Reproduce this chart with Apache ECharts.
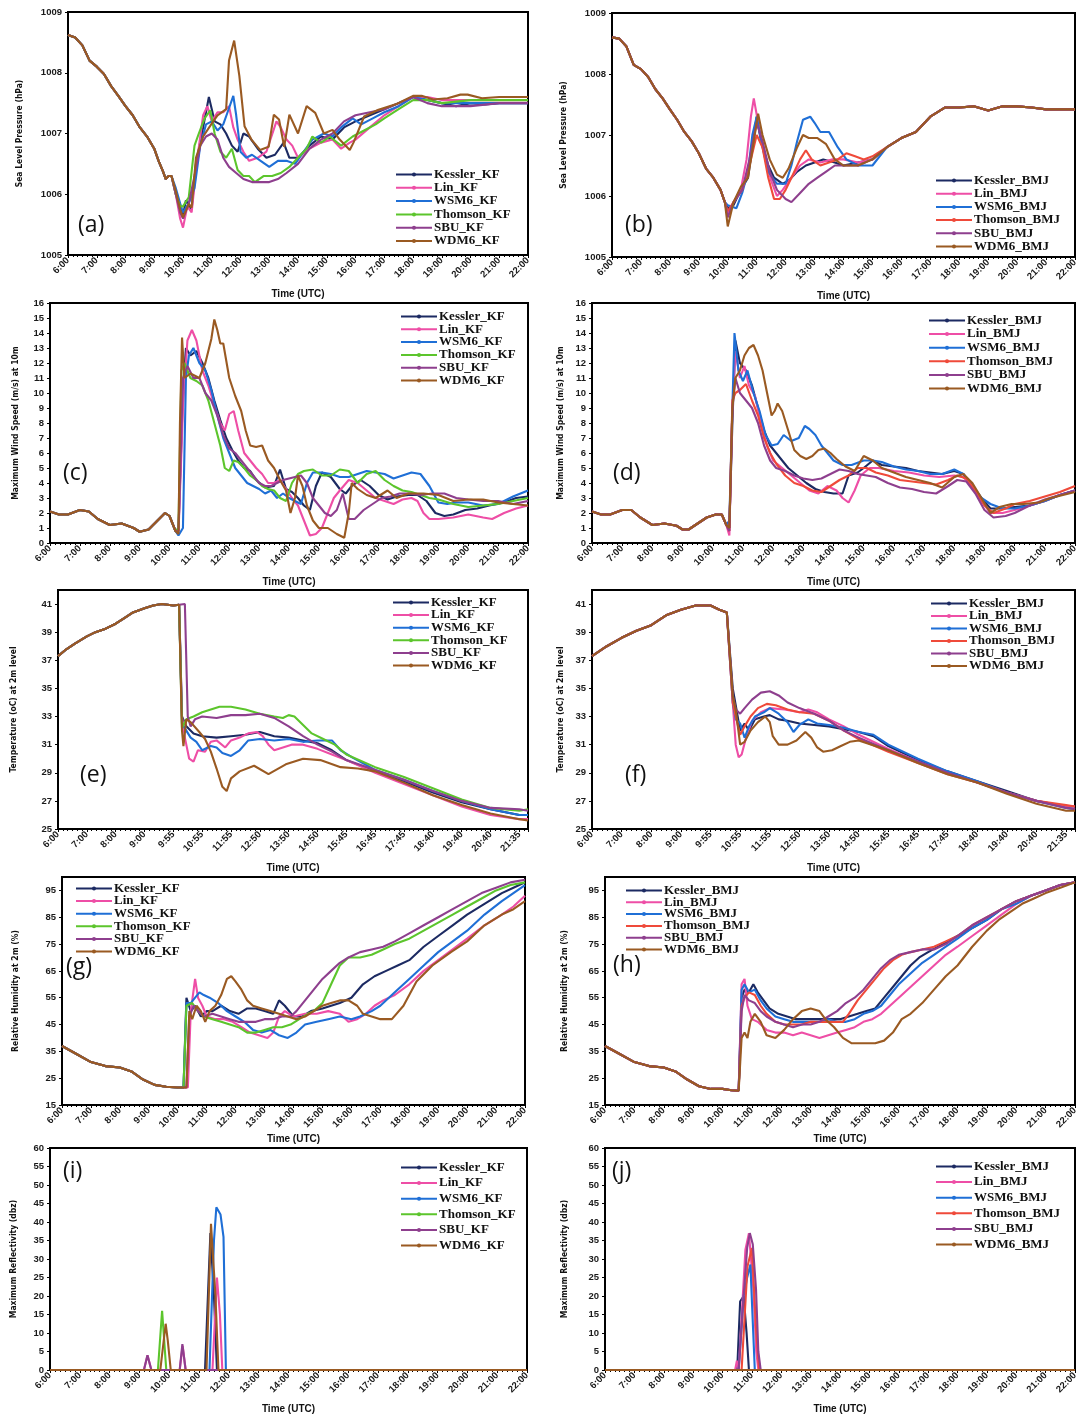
<!DOCTYPE html>
<html><head><meta charset="utf-8">
<script src="https://cdn.jsdelivr.net/npm/echarts@6/dist/echarts.min.js"></script>
<style>html,body{margin:0;padding:0;background:#fff}#c{width:1081px;height:1415px}</style>
</head><body><div id="c"></div>
<script>
// ---------- tick labels ----------
const hourLabels = ['6:00','7:00','8:00','9:00','10:00','11:00','12:00','13:00','14:00','15:00','16:00','17:00','18:00','19:00','20:00','21:00','22:00'];
const tempTickLabels = ['6:00','7:00','8:00','9:00','9:55','10:55','11:55','12:50','13:50','14:50','15:45','16:45','17:45','18:40','19:40','20:40','21:35'];
const schemesKF = ['Kessler_KF','Lin_KF','WSM6_KF','Thomson_KF','SBU_KF','WDM6_KF'];
const schemesBMJ = ['Kessler_BMJ','Lin_BMJ','WSM6_BMJ','Thomson_BMJ','SBU_BMJ','WDM6_BMJ'];

// ---------- (a) Sea level pressure, KF ----------
const a_common = [[6,1008.62],[6.25,1008.58],[6.5,1008.45],[6.75,1008.2],[7,1008.1],[7.25,1007.98],[7.5,1007.78],[7.75,1007.62],[8,1007.45],[8.25,1007.3],[8.5,1007.1],[8.75,1006.95],[9,1006.75],[9.15,1006.55],[9.3,1006.38],[9.4,1006.25],[9.5,1006.3],[9.6,1006.3]];
const a_Kessler = [[9.75,1006.0],[9.9,1005.8],[10.0,1005.65],[10.1,1005.9],[10.3,1005.75],[10.45,1006.5],[10.7,1007.1],[10.9,1007.6],[11.1,1007.2],[11.3,1007.15],[11.5,1007.0],[11.7,1006.8],[11.9,1006.7],[12.1,1007.0],[12.3,1006.95],[12.6,1006.75],[12.9,1006.6],[13.2,1006.65],[13.5,1006.85],[13.7,1006.6],[14.0,1006.6],[14.4,1006.8],[14.8,1006.95],[15.2,1006.9],[15.6,1007.1],[16.0,1007.2],[16.5,1007.3],[17.0,1007.4],[17.5,1007.5],[18.0,1007.6],[18.5,1007.55],[19.0,1007.5],[19.5,1007.45],[20.0,1007.5],[20.5,1007.48],[21.0,1007.5],[22.0,1007.5]];
const a_Lin = [[9.75,1006.0],[9.9,1005.6],[10.0,1005.45],[10.15,1005.8],[10.3,1005.7],[10.5,1006.6],[10.7,1007.3],[10.85,1007.45],[11.0,1007.2],[11.2,1007.35],[11.4,1007.35],[11.6,1007.45],[11.75,1007.1],[11.9,1006.9],[12.1,1006.7],[12.3,1006.55],[12.6,1006.6],[12.9,1006.7],[13.25,1007.2],[13.4,1007.1],[13.6,1006.9],[13.8,1006.8],[14.0,1006.6],[14.4,1006.75],[14.8,1006.85],[15.2,1006.9],[15.5,1006.75],[15.8,1006.85],[16.0,1006.9],[16.5,1007.1],[17.0,1007.3],[17.5,1007.45],[18.0,1007.6],[18.5,1007.6],[19.0,1007.55],[20.0,1007.55],[21.0,1007.55],[22.0,1007.55]];
const a_WSM6 = [[9.75,1006.1],[9.9,1005.85],[10.0,1005.7],[10.2,1005.85],[10.4,1006.1],[10.6,1006.8],[10.8,1007.15],[11.0,1007.2],[11.2,1007.05],[11.4,1007.15],[11.55,1007.35],[11.75,1007.62],[11.85,1007.3],[12.0,1006.7],[12.2,1006.6],[12.4,1006.65],[12.7,1006.55],[13.0,1006.45],[13.3,1006.55],[13.6,1006.55],[13.9,1006.5],[14.2,1006.7],[14.5,1006.9],[14.9,1007.0],[15.2,1006.95],[15.5,1007.1],[15.9,1007.25],[16.2,1007.15],[16.6,1007.25],[17.0,1007.35],[17.5,1007.45],[18.0,1007.6],[18.5,1007.55],[19.0,1007.5],[20.0,1007.5],[21.0,1007.5],[22.0,1007.5]];
const a_Thomson = [[9.75,1006.0],[9.9,1005.8],[10.0,1005.8],[10.2,1005.95],[10.4,1006.8],[10.55,1007.0],[10.75,1007.25],[10.95,1007.38],[11.1,1007.0],[11.3,1006.7],[11.5,1006.6],[11.7,1006.75],[11.9,1006.4],[12.1,1006.3],[12.3,1006.3],[12.5,1006.2],[12.8,1006.3],[13.1,1006.3],[13.4,1006.35],[13.7,1006.45],[14.0,1006.6],[14.3,1006.75],[14.5,1006.95],[14.8,1006.85],[15.1,1006.95],[15.5,1006.8],[15.9,1006.95],[16.3,1007.05],[16.7,1007.15],[17.0,1007.25],[17.5,1007.4],[18.0,1007.55],[18.5,1007.55],[19.0,1007.5],[20.0,1007.55],[21.0,1007.55],[22.0,1007.55]];
const a_SBU = [[9.75,1006.0],[9.9,1005.7],[10.0,1005.6],[10.2,1005.85],[10.4,1006.3],[10.6,1006.8],[10.8,1006.95],[11.0,1007.0],[11.2,1006.9],[11.4,1006.6],[11.6,1006.45],[11.85,1006.35],[12.1,1006.25],[12.4,1006.2],[12.7,1006.2],[13.0,1006.2],[13.3,1006.25],[13.6,1006.35],[14.0,1006.5],[14.4,1006.75],[14.8,1006.9],[15.2,1007.0],[15.6,1007.2],[16.0,1007.3],[16.5,1007.35],[17.0,1007.4],[17.5,1007.5],[18.0,1007.6],[18.5,1007.5],[19.0,1007.45],[19.5,1007.45],[20.0,1007.45],[21.0,1007.5],[22.0,1007.5]];
const a_WDM6 = [[9.75,1006.05],[9.9,1005.75],[10.0,1005.62],[10.2,1005.84],[10.3,1005.78],[10.45,1006.6],[10.7,1006.95],[11.05,1007.2],[11.2,1007.3],[11.5,1007.4],[11.6,1008.2],[11.78,1008.53],[11.96,1007.95],[12.14,1007.12],[12.38,1006.9],[12.68,1006.73],[12.98,1006.78],[13.16,1007.31],[13.34,1007.23],[13.52,1006.78],[13.7,1007.31],[14.0,1007.0],[14.3,1007.45],[14.6,1007.34],[14.9,1007.0],[15.2,1007.06],[15.45,1006.9],[15.8,1006.73],[15.93,1006.85],[16.3,1007.28],[16.8,1007.39],[17.4,1007.48],[18.0,1007.62],[18.3,1007.62],[18.7,1007.56],[19.2,1007.58],[19.65,1007.64],[19.9,1007.64],[20.4,1007.58],[21.0,1007.6],[22.0,1007.6]];

// ---------- (b) Sea level pressure, BMJ ----------
const b_common = [[6,1008.6],[6.25,1008.58],[6.5,1008.45],[6.75,1008.15],[7,1008.08],[7.25,1007.95],[7.5,1007.75],[7.75,1007.6],[8,1007.42],[8.25,1007.25],[8.5,1007.05],[8.75,1006.9],[9,1006.7],[9.25,1006.45],[9.5,1006.3],[9.75,1006.1],[9.9,1005.9]];
const b_tail = [[15.5,1006.8],[16.0,1006.95],[16.5,1007.05],[17.0,1007.3],[17.5,1007.45],[18.0,1007.45],[18.5,1007.47],[19.0,1007.4],[19.5,1007.47],[20.0,1007.47],[20.5,1007.45],[21.0,1007.42],[22.0,1007.42]];
const b_Kessler = [[10.0,1005.8],[10.2,1005.85],[10.45,1006.1],[10.7,1006.3],[10.85,1006.8],[11.0,1007.3],[11.15,1006.9],[11.4,1006.5],[11.6,1006.3],[11.9,1006.2],[12.1,1006.25],[12.4,1006.4],[12.7,1006.5],[13.0,1006.55],[13.3,1006.6],[13.7,1006.55],[14.0,1006.5],[14.5,1006.55],[15.0,1006.6]];
const b_Lin = [[10.0,1005.7],[10.2,1005.9],[10.45,1006.1],[10.65,1006.6],[10.8,1007.3],[10.9,1007.6],[11.05,1007.2],[11.3,1006.6],[11.5,1006.25],[11.7,1006.0],[11.9,1006.1],[12.2,1006.3],[12.5,1006.5],[12.8,1006.6],[13.2,1006.55],[13.6,1006.6],[14.0,1006.6],[14.5,1006.55],[15.0,1006.6]];
const b_WSM6 = [[10.0,1005.85],[10.3,1005.8],[10.5,1006.05],[10.7,1006.4],[10.85,1007.0],[11.0,1007.3],[11.2,1006.8],[11.4,1006.4],[11.7,1006.2],[12.0,1006.2],[12.2,1006.5],[12.4,1006.9],[12.6,1007.25],[12.85,1007.3],[13.0,1007.2],[13.2,1007.05],[13.5,1007.05],[13.8,1006.8],[14.1,1006.6],[14.5,1006.5],[15.0,1006.5]];
const b_Thomson = [[10.0,1005.75],[10.2,1005.9],[10.5,1006.1],[10.75,1006.5],[11.0,1007.0],[11.2,1006.8],[11.4,1006.3],[11.6,1005.95],[11.8,1005.95],[12.0,1006.1],[12.2,1006.3],[12.5,1006.6],[12.7,1006.75],[12.9,1006.6],[13.2,1006.5],[13.5,1006.55],[13.8,1006.6],[14.1,1006.7],[14.4,1006.65],[14.7,1006.6],[15.0,1006.65]];
const b_SBU = [[10.0,1005.65],[10.2,1005.9],[10.5,1006.1],[10.75,1006.6],[11.0,1007.2],[11.2,1006.9],[11.45,1006.4],[11.7,1006.1],[12.0,1005.95],[12.2,1005.9],[12.5,1006.05],[12.8,1006.2],[13.1,1006.3],[13.4,1006.4],[13.7,1006.5],[14.0,1006.5],[14.5,1006.5],[15.0,1006.6]];
const b_WDM6 = [[10.0,1005.5],[10.2,1005.9],[10.45,1006.15],[10.7,1006.3],[10.9,1006.9],[11.05,1007.35],[11.2,1007.0],[11.45,1006.6],[11.7,1006.35],[11.9,1006.3],[12.1,1006.45],[12.4,1006.8],[12.6,1007.0],[12.8,1006.95],[13.1,1006.95],[13.4,1006.85],[13.7,1006.6],[14.0,1006.5],[14.5,1006.5],[15.0,1006.6]];

// ---------- (c) Max wind speed, KF ----------
const c_common = [[6,2.1],[6.3,1.9],[6.6,1.9],[7,2.2],[7.3,2.1],[7.6,1.6],[8,1.2],[8.4,1.3],[8.8,1.0],[9.0,0.75],[9.3,0.9],[9.6,1.5],[9.85,2.0],[10.0,1.8],[10.2,0.8]];
const c_Kessler = [[10.3,0.8],[10.45,10],[10.55,13.0],[10.7,12.5],[10.9,12.8],[11.1,12.0],[11.3,11.0],[11.5,9.5],[11.7,8.2],[11.9,7.0],[12.1,6.2],[12.3,5.5],[12.5,5.0],[12.7,4.8],[12.9,4.2],[13.2,3.7],[13.5,3.8],[13.7,4.9],[13.9,3.6],[14.1,3.4],[14.3,3.0],[14.5,2.5],[14.7,2.2],[14.9,3.8],[15.1,4.7],[15.4,4.4],[15.7,3.6],[15.9,3.3],[16.1,3.8],[16.4,4.2],[16.7,3.8],[17.0,3.2],[17.3,2.9],[17.6,3.1],[18.0,3.2],[18.3,3.2],[18.6,2.8],[18.9,2.0],[19.2,1.8],[19.5,1.9],[19.9,2.2],[20.3,2.3],[20.7,2.5],[21.2,2.7],[21.6,3.0],[22,3.1]];
const c_Lin = [[10.3,0.6],[10.45,9],[10.6,13.5],[10.75,14.2],[10.9,13.5],[11.1,11.5],[11.3,10.5],[11.5,9.2],[11.7,8.0],[11.85,7.5],[12.0,8.6],[12.15,8.8],[12.3,7.5],[12.5,6.0],[12.7,5.5],[12.9,5.0],[13.1,4.6],[13.3,4.0],[13.5,4.0],[13.7,4.2],[13.9,3.6],[14.1,3.0],[14.3,2.5],[14.5,1.5],[14.7,0.5],[14.9,0.6],[15.1,1.0],[15.3,2.0],[15.5,3.0],[15.7,3.5],[16.0,4.2],[16.3,4.0],[16.6,3.5],[16.9,3.0],[17.2,2.8],[17.5,2.6],[17.8,2.9],[18.1,3.0],[18.3,2.8],[18.5,2.0],[18.7,1.6],[19.0,1.6],[19.5,1.7],[20.0,1.9],[20.5,1.7],[20.8,1.6],[21.2,2.0],[21.6,2.3],[22,2.5]];
const c_WSM6 = [[10.3,0.5],[10.45,1.0],[10.55,11],[10.65,12.5],[10.8,13.0],[11.0,12.0],[11.2,11.5],[11.4,10.2],[11.6,8.5],[11.8,7.0],[12.0,6.0],[12.2,5.0],[12.4,4.5],[12.6,4.0],[12.8,3.8],[13.0,3.6],[13.2,3.3],[13.4,3.5],[13.6,3.0],[13.8,3.3],[14.0,3.0],[14.2,2.8],[14.4,2.6],[14.6,4.0],[14.8,4.7],[15.1,4.7],[15.4,4.6],[15.7,4.4],[16.0,4.4],[16.3,4.6],[16.6,4.8],[16.9,4.7],[17.2,4.6],[17.5,4.3],[17.8,4.5],[18.1,4.7],[18.4,4.6],[18.7,3.8],[19.0,2.7],[19.3,2.6],[19.6,2.7],[20.0,2.7],[20.5,2.5],[21.0,2.6],[21.5,3.1],[22,3.5]];
const c_Thomson = [[10.3,1.0],[10.4,11.5],[10.5,12.0],[10.7,11.0],[10.9,10.8],[11.1,10.5],[11.3,9.5],[11.5,8.0],[11.7,6.5],[11.85,5.0],[12.0,4.8],[12.15,5.5],[12.3,5.4],[12.5,5.0],[12.7,4.5],[12.9,4.2],[13.1,3.8],[13.3,3.6],[13.5,3.5],[13.7,3.0],[13.9,2.8],[14.1,4.0],[14.3,4.6],[14.5,4.8],[14.8,4.9],[15.1,4.5],[15.4,4.5],[15.7,4.9],[16.0,4.8],[16.3,4.0],[16.6,4.6],[16.9,4.8],[17.2,4.2],[17.5,3.8],[17.8,3.5],[18.1,3.4],[18.4,3.2],[18.7,3.0],[19.0,2.9],[19.5,2.6],[20.0,2.4],[20.5,2.5],[21.0,2.6],[21.5,2.8],[22,3.0]];
const c_SBU = [[10.3,0.8],[10.45,11],[10.6,11.8],[10.8,11.0],[11.0,11.0],[11.2,10.0],[11.4,9.5],[11.6,8.5],[11.8,7.2],[12.0,6.3],[12.2,6.0],[12.4,5.5],[12.6,5.0],[12.8,4.5],[13.0,4.0],[13.2,3.8],[13.4,3.8],[13.6,4.0],[13.8,4.2],[14.0,4.3],[14.2,4.4],[14.4,4.5],[14.6,4.0],[14.8,3.0],[15.0,2.5],[15.2,2.0],[15.4,1.8],[15.6,2.2],[15.8,3.3],[16.0,1.6],[16.2,1.6],[16.5,2.2],[16.8,2.6],[17.1,3.0],[17.4,3.1],[17.7,3.3],[18.0,3.3],[18.4,3.2],[18.8,3.3],[19.2,3.3],[19.6,3.0],[20.0,2.9],[20.5,2.8],[21.0,2.8],[21.5,2.6],[22,2.8]];
const c_WDM6 = [[10.3,0.6],[10.35,8],[10.42,13.7],[10.5,11],[10.7,11.3],[11.0,11],[11.2,12.0],[11.4,13.6],[11.5,14.9],[11.6,14.2],[11.7,13.3],[11.8,13.3],[12.0,11],[12.2,9.8],[12.4,8.8],[12.55,7.5],[12.7,6.5],[12.9,6.4],[13.1,6.5],[13.3,5.5],[13.5,5.0],[13.7,4.2],[13.9,3.5],[14.05,2.0],[14.2,3.0],[14.3,4.5],[14.45,3.8],[14.6,2.5],[14.8,1.5],[15.0,1.0],[15.3,1.0],[15.6,0.6],[15.85,0.35],[16.0,2.0],[16.1,4.0],[16.3,3.6],[16.6,3.2],[16.9,3.0],[17.3,3.5],[17.6,3.0],[18.0,3.3],[18.5,3.3],[19.0,3.2],[19.5,2.8],[20.0,2.9],[20.5,2.9],[21.0,2.7],[21.5,2.6],[22.0,2.5]];

// ---------- (d) Max wind speed, BMJ ----------
const d_common = [[6,2.1],[6.3,1.9],[6.6,1.9],[7,2.2],[7.3,2.2],[7.6,1.7],[8,1.2],[8.4,1.3],[8.8,1.15],[9.0,0.9],[9.2,0.9],[9.5,1.3],[9.8,1.7],[10.1,1.9],[10.3,1.9],[10.45,1.2]];
const d_Kessler = [[10.55,1.0],[10.65,8],[10.75,13.5],[10.9,12.0],[11.1,11.5],[11.3,10.5],[11.5,9.0],[11.7,7.5],[11.9,6.5],[12.1,6.0],[12.3,5.5],[12.5,5.0],[12.8,4.5],[13.1,4.0],[13.4,3.6],[13.7,3.4],[14.0,3.3],[14.3,3.3],[14.5,4.5],[14.8,4.7],[15.0,5.0],[15.3,5.5],[15.6,5.2],[16.0,5.1],[16.4,5.0],[16.8,4.8],[17.2,4.7],[17.6,4.6],[18.0,4.8],[18.3,4.6],[18.6,3.8],[18.9,3.0],[19.2,2.3],[19.6,2.3],[20.0,2.4],[20.5,2.5],[21.0,2.8],[21.5,3.2],[22,3.5]];
const d_Lin = [[10.55,0.5],[10.65,9],[10.75,12.8],[10.9,11.0],[11.05,11.8],[11.2,10.5],[11.4,9.8],[11.6,8.0],[11.8,6.5],[12.0,5.5],[12.3,5.0],[12.6,4.5],[12.9,4.0],[13.2,3.5],[13.5,3.3],[13.8,3.8],[14.1,3.5],[14.3,3.0],[14.5,2.7],[14.7,3.5],[14.9,4.5],[15.2,5.0],[15.5,5.0],[16.0,4.8],[16.5,4.7],[17.0,4.5],[17.5,4.4],[18.0,4.5],[18.3,4.4],[18.6,3.7],[18.9,2.8],[19.2,2.0],[19.6,2.0],[20.0,2.2],[20.5,2.5],[21.0,2.8],[21.5,3.2],[22,3.5]];
const d_WSM6 = [[10.55,1.5],[10.65,9],[10.72,14.0],[10.85,11.5],[11.0,10.8],[11.15,11.5],[11.35,10.0],[11.55,8.8],[11.75,7.2],[11.95,6.5],[12.15,6.6],[12.35,7.2],[12.6,6.8],[12.85,7.0],[13.05,7.8],[13.2,7.6],[13.4,7.2],[13.6,6.5],[13.8,6.0],[14.0,5.5],[14.3,5.2],[14.6,5.2],[15.0,5.5],[15.3,5.5],[15.6,5.4],[16.0,5.1],[16.4,4.9],[16.8,4.8],[17.2,4.6],[17.6,4.6],[18.0,4.9],[18.3,4.6],[18.6,3.8],[18.9,3.0],[19.2,2.6],[19.6,2.3],[20.0,2.3],[20.5,2.5],[21.0,2.8],[21.5,3.2],[22,3.5]];
const d_Thomson = [[10.55,0.8],[10.65,9.5],[10.75,10.0],[10.9,10.2],[11.1,10.6],[11.3,9.5],[11.5,8.5],[11.7,7.0],[11.9,6.0],[12.1,5.3],[12.4,4.5],[12.7,4.0],[13.0,3.8],[13.3,3.5],[13.6,3.4],[13.9,3.8],[14.2,4.2],[14.5,4.5],[14.8,5.0],[15.1,5.0],[15.4,4.7],[15.8,4.5],[16.2,4.2],[16.6,4.1],[17.0,4.0],[17.4,3.9],[17.8,4.2],[18.1,4.5],[18.4,4.3],[18.7,3.5],[19.0,2.5],[19.3,2.0],[19.7,2.3],[20.0,2.6],[20.5,2.8],[21.0,3.1],[21.5,3.4],[22,3.8]];
const d_SBU = [[10.55,0.8],[10.65,9],[10.75,11.0],[10.9,10.0],[11.1,9.5],[11.3,9.0],[11.5,8.0],[11.7,6.5],[11.9,5.5],[12.1,5.0],[12.4,4.8],[12.7,4.5],[13.0,4.3],[13.3,4.2],[13.6,4.3],[13.9,4.6],[14.2,4.9],[14.5,4.8],[14.8,4.6],[15.1,4.5],[15.4,4.4],[15.8,4.0],[16.2,3.7],[16.6,3.6],[17.0,3.4],[17.4,3.3],[17.8,3.8],[18.1,4.2],[18.4,4.1],[18.7,3.3],[19.0,2.2],[19.3,1.7],[19.7,1.8],[20.0,2.0],[20.5,2.5],[21.0,2.9],[21.5,3.2],[22,3.5]];
const d_WDM6 = [[10.55,1.0],[10.65,9],[10.75,11.0],[10.9,11.5],[11.05,12.5],[11.2,13.0],[11.35,13.2],[11.5,12.5],[11.65,11.5],[11.8,10.0],[11.95,8.5],[12.05,8.8],[12.15,9.3],[12.3,8.8],[12.5,7.5],[12.7,6.2],[12.9,5.8],[13.1,5.6],[13.3,5.8],[13.5,6.2],[13.7,6.3],[13.9,6.0],[14.1,5.6],[14.4,5.1],[14.7,4.8],[15.0,5.8],[15.3,5.5],[15.6,5.0],[16.0,4.7],[16.4,4.4],[16.8,4.2],[17.2,4.0],[17.6,3.7],[18.0,4.4],[18.3,4.6],[18.6,4.0],[18.9,3.0],[19.2,2.0],[19.5,2.4],[19.9,2.6],[20.3,2.6],[20.8,2.7],[21.2,3.0],[21.6,3.2],[22,3.4]];

// ---------- (e) Temperature, KF (x = tick index) ----------
const e_common = [[0,37.3],[0.3,37.8],[0.6,38.2],[1,38.7],[1.3,39.0],[1.6,39.2],[2,39.6],[2.3,40.0],[2.6,40.4],[3,40.7],[3.3,40.9],[3.6,41.0],[4.0,40.9],[4.2,40.95]];
const e_Kessler = [[4.25,40.9],[4.3,33.0],[4.45,32.3],[4.7,31.8],[5.0,31.6],[5.5,31.5],[6.0,31.6],[6.5,31.7],[7.0,31.9],[7.5,31.6],[8.0,31.5],[8.5,31.3],[9.0,31.1],[9.5,30.6],[10,29.9],[11,29.1],[12,28.4],[13,27.6],[14,26.9],[15,26.4],[16,26.0],[16.3,26.0]];
const e_Lin = [[4.25,40.9],[4.3,33.0],[4.4,31.5],[4.55,30.0],[4.7,29.8],[4.85,30.6],[5.1,30.5],[5.3,31.2],[5.5,31.3],[5.8,30.8],[6.0,31.3],[6.3,31.5],[6.6,31.8],[6.9,31.9],[7.1,31.6],[7.3,31.0],[7.5,30.6],[7.8,30.8],[8.1,31.0],[8.5,31.0],[9,30.7],[9.5,30.3],[10,29.9],[11,29.0],[12,28.2],[13,27.4],[14,26.6],[15,26.0],[16,25.7],[16.3,25.7]];
const e_WSM6 = [[4.25,40.9],[4.3,32.5],[4.45,32.0],[4.6,31.5],[4.8,31.2],[5.0,30.6],[5.3,30.9],[5.5,30.8],[5.7,30.4],[6.0,30.2],[6.3,30.6],[6.6,31.3],[7.0,31.4],[7.5,31.3],[8.0,31.4],[8.5,31.2],[9,31.3],[9.5,31.3],[9.8,30.6],[10.2,30.1],[11,29.2],[12,28.5],[13,27.7],[14,27.0],[15,26.4],[16,26.0],[16.3,26.0]];
const e_Thomson = [[4.25,40.9],[4.3,32.2],[4.45,32.8],[4.7,33.0],[5.0,33.3],[5.3,33.5],[5.6,33.7],[6.0,33.7],[6.5,33.5],[7.0,33.2],[7.5,33.0],[7.8,32.9],[8.0,33.1],[8.2,33.0],[8.5,32.4],[8.8,31.8],[9.2,31.4],[9.6,31.0],[10,30.3],[11,29.4],[12,28.7],[13,27.9],[14,27.1],[15,26.5],[16,26.3],[16.3,26.4]];
const e_SBU = [[4.4,41.0],[4.5,33.0],[4.6,32.3],[4.75,32.8],[5.0,33.0],[5.5,32.9],[6.0,33.1],[6.5,33.1],[7.0,33.2],[7.5,32.9],[8.0,32.3],[8.5,31.6],[9.0,31.0],[9.5,30.5],[10,29.9],[11,29.2],[12,28.5],[13,27.7],[14,27.0],[15,26.5],[16,26.4],[16.3,26.3]];
const e_WDM6 = [[4.25,40.9],[4.3,32.0],[4.35,30.9],[4.45,32.8],[4.6,32.6],[4.9,31.9],[5.1,31.4],[5.3,30.5],[5.5,29.3],[5.7,28.0],[5.85,27.7],[6.0,28.6],[6.3,29.1],[6.8,29.5],[7.3,28.9],[7.9,29.6],[8.5,30.0],[9.1,29.9],[9.8,29.4],[10.4,29.3],[11,29.1],[12,28.3],[13,27.4],[14,26.7],[15,26.1],[16,25.7],[16.3,25.6]];

// ---------- (f) Temperature, BMJ (x = tick index) ----------
const f_common = [[0,37.3],[0.5,38.0],[1,38.6],[1.5,39.1],[2,39.5],[2.5,40.2],[3,40.6],[3.5,40.9],[4,40.9],[4.3,40.6],[4.55,40.4]];
const f_Kessler = [[4.6,40.4],[4.75,35],[4.85,33.8],[5.0,32.0],[5.15,32.5],[5.3,32.0],[5.5,32.8],[5.8,33.0],[6.0,33.1],[6.3,32.8],[6.6,32.7],[7.0,32.5],[7.5,32.4],[8.0,32.3],[8.5,32.1],[9.0,31.9],[9.5,31.6],[10,30.9],[11,29.9],[12,29.1],[13,28.4],[14,27.7],[15,27.0],[16,26.6],[16.3,26.6]];
const f_Lin = [[4.6,40.4],[4.75,34],[4.85,31.0],[4.95,30.1],[5.05,30.3],[5.2,31.5],[5.4,32.7],[5.7,33.3],[6.0,33.6],[6.5,33.5],[7.0,33.3],[7.3,33.5],[7.6,33.3],[8.0,32.8],[8.5,32.3],[9,31.7],[10,30.7],[11,29.8],[12,29.0],[13,28.3],[14,27.6],[15,27.0],[16,26.6],[16.3,26.6]];
const f_WSM6 = [[4.6,40.4],[4.75,34],[4.85,32.8],[5.0,32.5],[5.15,31.5],[5.3,32.3],[5.5,33.0],[5.8,33.3],[6.0,33.6],[6.3,33.2],[6.6,32.6],[6.8,31.9],[7.0,32.4],[7.3,32.8],[7.6,32.5],[8.0,32.4],[8.5,32.2],[9.0,31.9],[9.5,31.7],[10,31.0],[11,30.0],[12,29.1],[13,28.4],[14,27.6],[15,27.0],[16,26.5],[16.3,26.4]];
const f_Thomson = [[4.6,40.4],[4.75,34],[4.85,33.0],[5.0,31.7],[5.15,32.3],[5.35,33.0],[5.6,33.6],[5.9,33.9],[6.2,33.8],[6.6,33.5],[7.0,33.3],[7.5,33.2],[8.0,32.7],[8.5,32.0],[9,31.4],[10,30.5],[11,29.7],[12,28.9],[13,28.3],[14,27.6],[15,27.0],[16,26.7],[16.3,26.6]];
const f_SBU = [[4.6,40.4],[4.75,34.5],[4.85,33.5],[5.0,33.2],[5.15,33.6],[5.4,34.2],[5.7,34.7],[6.0,34.8],[6.3,34.5],[6.6,34.0],[7.0,33.6],[7.5,33.2],[8.0,32.7],[8.5,32.0],[9,31.5],[10,30.6],[11,29.8],[12,29.0],[13,28.3],[14,27.6],[15,27.0],[16,26.5],[16.3,26.4]];
const f_WDM6 = [[4.6,40.4],[4.75,34.5],[4.85,33.5],[5.0,31.0],[5.15,31.2],[5.35,32.0],[5.6,32.6],[5.85,33.0],[6.0,32.6],[6.1,31.6],[6.3,31.0],[6.6,31.0],[6.9,31.3],[7.2,31.9],[7.4,31.5],[7.6,30.8],[7.8,30.5],[8.1,30.6],[8.4,30.9],[8.7,31.2],[9,31.3],[10,30.6],[11,29.7],[12,28.9],[13,28.3],[14,27.5],[15,26.8],[16,26.3],[16.3,26.3]];

// ---------- (g) Relative humidity, KF ----------
const g_common = [[6,37],[6.5,34],[7,31],[7.5,29.5],[8,29],[8.4,27.5],[8.8,24.5],[9.2,22.5],[9.6,21.8],[10,21.5],[10.2,21.5]];
const g_Kessler = [[10.25,21.6],[10.3,55],[10.45,50],[10.6,52],[10.8,48],[11.0,50],[11.2,50],[11.5,52],[11.8,50],[12.1,49],[12.4,51],[12.7,51],[13.0,50],[13.3,49],[13.5,54],[13.7,52],[14.0,48],[14.3,48],[14.6,50],[15.0,51],[15.3,52],[15.6,53],[16.0,55],[16.4,60],[16.8,63],[17.2,65],[17.6,67],[18.0,69],[18.5,74],[19.0,78],[19.5,82],[20.0,86],[20.6,90],[21.2,94],[21.6,96],[22,98]];
const g_Lin = [[10.35,21.5],[10.45,50],[10.6,62],[10.7,55],[10.85,52],[11.0,48],[11.3,47],[11.6,47],[11.9,46],[12.2,44],[12.5,42],[12.8,41],[13.1,40],[13.3,42],[13.5,48],[13.7,50],[14.0,48],[14.4,49],[14.8,49],[15.2,50],[15.6,49],[15.9,46],[16.2,47],[16.5,49],[16.8,52],[17.1,54],[17.5,56],[18.0,60],[18.5,65],[19.0,69],[19.5,73],[20.0,77],[20.6,82],[21.2,86],[21.6,89],[22,93]];
const g_WSM6 = [[10.25,21.6],[10.3,53],[10.45,53],[10.6,55],[10.75,57],[10.9,56],[11.1,55],[11.4,53],[11.7,50],[12.0,48],[12.3,46],[12.6,43],[12.9,42],[13.2,43],[13.5,41],[13.8,40],[14.1,42],[14.4,45],[14.8,46],[15.2,47],[15.6,48],[16.0,47],[16.3,48],[16.7,50],[17.0,52],[17.5,57],[18.0,62],[18.5,67],[19.0,72],[19.5,76],[20.0,80],[20.6,86],[21.2,91],[21.6,94],[22,97]];
const g_Thomson = [[10.25,21.6],[10.3,52],[10.5,53],[10.7,50],[10.9,48],[11.2,47],[11.5,46],[11.8,45],[12.1,44],[12.4,42],[12.7,42],[13.0,43],[13.3,44],[13.6,44],[13.9,45],[14.2,47],[14.5,49],[14.7,50],[15.0,53],[15.3,60],[15.6,67],[15.9,70],[16.3,70],[16.7,71],[17.1,73],[17.5,75],[18.0,77],[18.5,80],[19.0,83],[19.5,86],[20.0,89],[20.5,92],[21.0,95],[21.5,97],[22,98]];
const g_SBU = [[10.3,21.5],[10.4,48],[10.55,52],[10.7,50],[10.9,48],[11.2,49],[11.5,48],[11.8,47],[12.1,46],[12.4,46],[12.7,46],[13.0,47],[13.3,47],[13.6,48],[13.9,48],[14.1,50],[14.4,54],[14.7,58],[15.0,62],[15.3,65],[15.6,68],[15.9,70],[16.3,72],[16.7,73],[17.1,74],[17.5,76],[18.0,79],[18.5,82],[19.0,85],[19.5,88],[20.0,91],[20.5,94],[21.0,96],[21.5,98],[22,99]];
const g_WDM6 = [[10.3,21.5],[10.4,50],[10.5,47],[10.65,52],[10.8,50],[10.95,46],[11.1,50],[11.3,52],[11.5,56],[11.7,62],[11.85,63],[12.0,61],[12.2,58],[12.4,54],[12.6,52],[12.9,51],[13.2,50],[13.5,49],[13.8,48],[14.1,47],[14.4,48],[14.7,50],[15.0,52],[15.3,53],[15.6,54],[15.9,54],[16.2,52],[16.4,49],[16.7,48],[17.0,47],[17.4,47],[17.8,52],[18.25,61],[18.8,67],[19.44,72],[20.0,76],[20.6,82],[21.2,86],[21.6,88],[22,91]];

// ---------- (h) Relative humidity, BMJ ----------
const h_common = [[6,37],[6.5,34],[7,31],[7.5,29.5],[8,29],[8.4,27.5],[8.8,24.5],[9.2,22],[9.6,21],[10,21],[10.3,20.5],[10.55,20.3]];
const h_Kessler = [[10.65,55],[10.75,58],[10.9,57],[11.05,60],[11.2,57],[11.4,54],[11.6,51],[11.9,49],[12.2,48],[12.5,47],[12.8,47],[13.1,47],[13.4,47],[13.7,47],[14.0,47],[14.3,48],[14.6,49],[14.9,50],[15.2,51],[15.5,55],[15.8,59],[16.1,63],[16.4,67],[16.7,70],[17.0,72],[17.5,75],[18.0,78],[18.5,81],[19.0,84],[19.5,88],[20.0,91],[20.5,93],[21.0,95],[21.5,97],[22,98]];
const h_Lin = [[10.6,40],[10.65,60],[10.75,62],[10.85,52],[11.0,47],[11.2,46],[11.5,43],[11.8,42],[12.1,42],[12.4,41],[12.7,42],[13.0,41],[13.3,40],[13.6,41],[13.9,42],[14.2,43],[14.5,44],[14.8,46],[15.1,47],[15.4,49],[15.7,52],[16.0,55],[16.4,59],[16.8,63],[17.2,67],[17.6,71],[18.0,74],[18.5,78],[19.0,82],[19.5,86],[20.0,90],[20.5,93],[21.0,95],[21.5,97],[22,98]];
const h_WSM6 = [[10.65,58],[10.75,60],[10.9,57],[11.1,58],[11.3,54],[11.5,51],[11.8,48],[12.1,47],[12.4,46],[12.7,46],[13.0,46],[13.3,46],[13.6,47],[13.9,46],[14.2,46],[14.5,47],[14.8,49],[15.1,50],[15.4,52],[15.7,56],[16.0,60],[16.4,64],[16.8,68],[17.2,71],[17.6,74],[18.0,77],[18.5,81],[19.0,84],[19.5,88],[20.0,90],[20.5,93],[21.0,95],[21.5,97],[22,98]];
const h_Thomson = [[10.65,52],[10.75,55],[10.9,57],[11.1,56],[11.3,52],[11.5,49],[11.8,46],[12.1,45],[12.4,45],[12.7,45],[13.0,46],[13.3,46],[13.6,46],[13.9,46],[14.1,46],[14.3,49],[14.6,54],[14.9,58],[15.2,62],[15.5,66],[15.8,69],[16.1,71],[16.4,72],[16.8,73],[17.2,74],[17.6,76],[18.0,78],[18.5,82],[19.0,85],[19.5,88],[20.0,91],[20.5,93],[21.0,95],[21.5,97],[22,98]];
const h_SBU = [[10.65,50],[10.75,56],[10.9,54],[11.1,53],[11.3,50],[11.5,48],[11.8,46],[12.1,45],[12.4,44],[12.7,45],[13.0,45],[13.3,46],[13.6,48],[13.9,50],[14.2,53],[14.5,55],[14.8,58],[15.1,62],[15.4,66],[15.7,69],[16.0,71],[16.4,72],[16.8,73],[17.2,73],[17.6,75],[18.0,78],[18.5,82],[19.0,85],[19.5,88],[20.0,91],[20.5,93],[21.0,95],[21.5,97],[22,98]];
const h_WDM6 = [[10.65,40],[10.75,42],[10.85,40],[10.95,46],[11.1,49],[11.3,46],[11.5,41],[11.8,40],[12.1,43],[12.4,47],[12.7,50],[13.0,51],[13.3,50],[13.5,47],[13.8,44],[14.1,40],[14.4,38],[14.8,38],[15.2,38],[15.5,39],[15.8,42],[16.1,47],[16.4,49],[16.8,53],[17.2,58],[17.6,63],[18.0,67],[18.5,74],[19.0,80],[19.4,84],[19.8,87],[20.2,90],[20.6,92],[21.0,94],[21.5,96],[22,98]];

// ---------- (i) Max reflectivity, KF ----------
const i_Kessler = [[6,0],[11.2,0],[11.38,37],[11.5,20],[11.6,0],[22,0]];
const i_Lin = [[6,0],[9.15,0],[9.27,4],[9.4,0],[10.35,0],[10.45,6.5],[10.55,0],[11.45,0],[11.6,25],[11.7,15],[11.78,0],[22,0]];
const i_WSM6 = [[6,0],[11.35,0],[11.5,35],[11.58,44],[11.72,42],[11.82,36],[11.9,0],[22,0]];
const i_Thomson = [[6,0],[9.62,0],[9.76,16],[9.9,0],[22,0]];
const i_SBU = [[6,0],[9.15,0],[9.27,4],[9.4,0],[10.35,0],[10.44,7],[10.55,0],[22,0]];
const i_WDM6 = [[6,0],[9.7,0],[9.88,12.5],[9.95,8],[10.05,0],[11.25,0],[11.4,39.5],[11.55,20],[11.65,0],[22,0]];

// ---------- (j) Max reflectivity, BMJ ----------
const j_Kessler = [[6,0],[10.5,0],[10.6,18.5],[10.72,20],[10.82,10],[10.9,0],[22,0]];
const j_Lin = [[6,0],[10.43,0],[10.49,2.5],[10.55,0],[10.62,10],[10.78,32.5],[10.9,37],[11.05,22],[11.15,5],[11.22,0],[22,0]];
const j_WSM6 = [[6,0],[10.55,0],[10.72,20],[10.84,25],[10.95,28.5],[11.02,15],[11.1,0],[22,0]];
const j_Thomson = [[6,0],[10.65,0],[10.85,28],[11.0,33],[11.15,10],[11.25,0],[22,0]];
const j_SBU = [[6,0],[10.55,0],[10.72,20],[10.84,33],[10.93,37],[11.03,34],[11.14,22],[11.22,5],[11.3,0],[22,0]];
const j_WDM6 = [[6,0],[22,0]];

// ---------- assembly ----------
const colorsKF = ['#1c2a62','#ee4ea6','#1f6fd6','#5cc52c','#8e3f8e','#9a5a22'];
const colorsBMJ = ['#1c2a62','#ee4ea6','#1f6fd6','#ef4a3a','#8e3f8e','#9a5a22'];

const panels = [
  {tag:'(a)', g:[68,12,460,243], y:[1005,1009,1,false], yName:'Sea Level Pressure (hPa)', ng:44, kind:'h', bmj:false,
   data:[a_common.concat(a_Kessler),a_common.concat(a_Lin),a_common.concat(a_WSM6),a_common.concat(a_Thomson),a_common.concat(a_SBU),a_common.concat(a_WDM6)],
   lg:[395,168,12.3], lab:[78,214]},
  {tag:'(b)', g:[612,13,463,244], y:[1005,1009,1,false], yName:'Sea Level Pressure (hPa)', ng:44, kind:'h', bmj:true,
   data:[b_common.concat(b_Kessler,b_tail),b_common.concat(b_Lin,b_tail),b_common.concat(b_WSM6,b_tail),b_common.concat(b_Thomson,b_tail),b_common.concat(b_SBU,b_tail),b_common.concat(b_WDM6,b_tail)],
   lg:[935,174,12.2], lab:[625,214]},
  {tag:'(c)', g:[50,303,478,240], y:[0,16,1,false], yName:'Maximum Wind Speed (m/s) at 10m', ng:30, kind:'h', bmj:false,
   data:[c_common.concat(c_Kessler),c_common.concat(c_Lin),c_common.concat(c_WSM6),c_common.concat(c_Thomson),c_common.concat(c_SBU),c_common.concat(c_WDM6)],
   lg:[400,310,11.8], lab:[63,462]},
  {tag:'(d)', g:[592,303,483,240], y:[0,16,1,false], yName:'Maximum Wind Speed (m/s) at 10m', ng:27, kind:'h', bmj:true,
   data:[d_common.concat(d_Kessler),d_common.concat(d_Lin),d_common.concat(d_WSM6),d_common.concat(d_Thomson),d_common.concat(d_SBU),d_common.concat(d_WDM6)],
   lg:[928,314,12.6], lab:[613,462]},
  {tag:'(e)', g:[58,590,470,239], y:[25,42,2,true], yName:'Temperature (oC) at 2m level', ng:40, kind:'t', bmj:false,
   data:[e_common.concat(e_Kessler),e_common.concat(e_Lin),e_common.concat(e_WSM6),e_common.concat(e_Thomson),e_common.concat(e_SBU),e_common.concat(e_WDM6)],
   lg:[392,596,11.6], lab:[80,764]},
  {tag:'(f)', g:[592,590,483,239], y:[25,42,2,true], yName:'Temperature (oC) at 2m level', ng:27, kind:'t', bmj:true,
   data:[f_common.concat(f_Kessler),f_common.concat(f_Lin),f_common.concat(f_WSM6),f_common.concat(f_Thomson),f_common.concat(f_SBU),f_common.concat(f_WDM6)],
   lg:[930,597,11.5], lab:[625,764]},
  {tag:'(g)', g:[62,877,463,228], y:[15,100,10,true], yName:'Relative Humidity at 2m (%)', ng:42, kind:'h', bmj:false,
   data:[g_common.concat(g_Kessler),g_common.concat(g_Lin),g_common.concat(g_WSM6),g_common.concat(g_Thomson),g_common.concat(g_SBU),g_common.concat(g_WDM6)],
   lg:[75,882,11.6], lab:[66,956]},
  {tag:'(h)', g:[605,877,470,228], y:[15,100,10,true], yName:'Relative Humidity at 2m (%)', ng:36, kind:'h', bmj:true,
   data:[h_common.concat(h_Kessler),h_common.concat(h_Lin),h_common.concat(h_WSM6),h_common.concat(h_Thomson),h_common.concat(h_SBU),h_common.concat(h_WDM6)],
   lg:[625,884,10.8], lab:[613,954]},
  {tag:'(i)', g:[50,1148,477,222], y:[0,60,5,false], yName:'Maximum Reflectivity (dbz)', ng:32, kind:'h', bmj:false,
   data:[i_Kessler,i_Lin,i_WSM6,i_Thomson,i_SBU,i_WDM6],
   lg:[400,1161,14.6], lab:[63,1160]},
  {tag:'(j)', g:[605,1148,470,222], y:[0,60,5,false], yName:'Maximum Reflectivity (dbz)', ng:36, kind:'h', bmj:true,
   data:[j_Kessler,j_Lin,j_WSM6,j_Thomson,j_SBU,j_WDM6],
   lg:[935,1160,14.6], lab:[612,1160]}
];

const tickFont = {fontFamily:'Liberation Sans, Arial, sans-serif', fontWeight:'bold', fontSize:9.5, color:'#1a1a1a'};
const grids=[], xAxes=[], yAxes=[], series=[], legends=[], graphics=[];
panels.forEach((p,gi)=>{
  grids.push({left:p.g[0], top:p.g[1], width:p.g[2], height:p.g[3], show:true, borderColor:'#000', borderWidth:2, containLabel:false});
  const isT = p.kind==='t';
  xAxes.push({type:'value', gridIndex:gi, min:isT?0:6, max:isT?16.3:22, interval:1,
    name:'Time (UTC)', nameLocation:'middle', nameGap: gi>=6 && gi<8 ? 29 : 34,
    nameTextStyle:{fontFamily:'Liberation Sans, Arial, sans-serif', fontWeight:'bold', fontSize:10, color:'#111'},
    axisLine:{show:true, onZero:false, lineStyle:{color:'#000', width:2}},
    axisTick:{show:true, length:3, lineStyle:{color:'#000'}},
    minorTick:{show:true, splitNumber:6, length:2, lineStyle:{color:'#000'}},
    splitLine:{show:false},
    axisLabel:Object.assign({rotate:45, margin:4, showMaxLabel:!isT,
      formatter:(v)=>{const k=Math.round(isT?v:v-6); return (isT?tempTickLabels:hourLabels)[k]||'';}}, tickFont)});
  yAxes.push({type:'value', gridIndex:gi, min:p.y[0], max:p.y[1], interval:p.y[2],
    name:p.yName, nameLocation:'middle', nameRotate:90, nameGap:p.ng,
    nameTextStyle:{fontFamily:'Liberation Sans Narrow, DejaVu Sans Condensed, Arial, sans-serif', fontWeight:'bold', fontSize:8.5, color:'#111'},
    axisLine:{show:true, lineStyle:{color:'#000', width:2}},
    axisTick:{show:true, length:3, lineStyle:{color:'#000'}},
    splitLine:{show:false},
    axisLabel:Object.assign({margin:6, showMaxLabel:!p.y[3], formatter:(v)=>String(v)}, tickFont)});
  const names = p.bmj?schemesBMJ:schemesKF;
  const cols = p.bmj?colorsBMJ:colorsKF;
  names.forEach((nm,k)=>{
    series.push({type:'line', name:nm, xAxisIndex:gi, yAxisIndex:gi, data:p.data[k],
      showSymbol:false, symbol:'circle', symbolSize:4, smooth:false, animation:false,
      lineStyle:{width:2.1, color:cols[k]}, itemStyle:{color:cols[k]}, z:2+k});
  });
  legends.push({data:names, orient:'vertical', left:p.lg[0], top:p.lg[1], itemWidth:36, itemHeight:5, itemGap:p.lg[2]-12, padding:0,
    selectedMode:false,
    textStyle:{fontFamily:'Liberation Serif, Times New Roman, serif', fontWeight:'bold', fontSize:13, color:'#111', lineHeight:12, padding:[0,0,0,-3]}});
  graphics.push({type:'text', left:p.lab[0], top:p.lab[1], silent:true,
    style:{text:p.tag, font:'23px "Open Sans", "Liberation Sans", sans-serif', fill:'#111'}});
});

const chart = echarts.init(document.getElementById('c'), null, {renderer:'canvas'});
chart.setOption({backgroundColor:'#fff', animation:false, grid:grids, xAxis:xAxes, yAxis:yAxes, series, legend:legends, graphic:graphics});
</script></body></html>
